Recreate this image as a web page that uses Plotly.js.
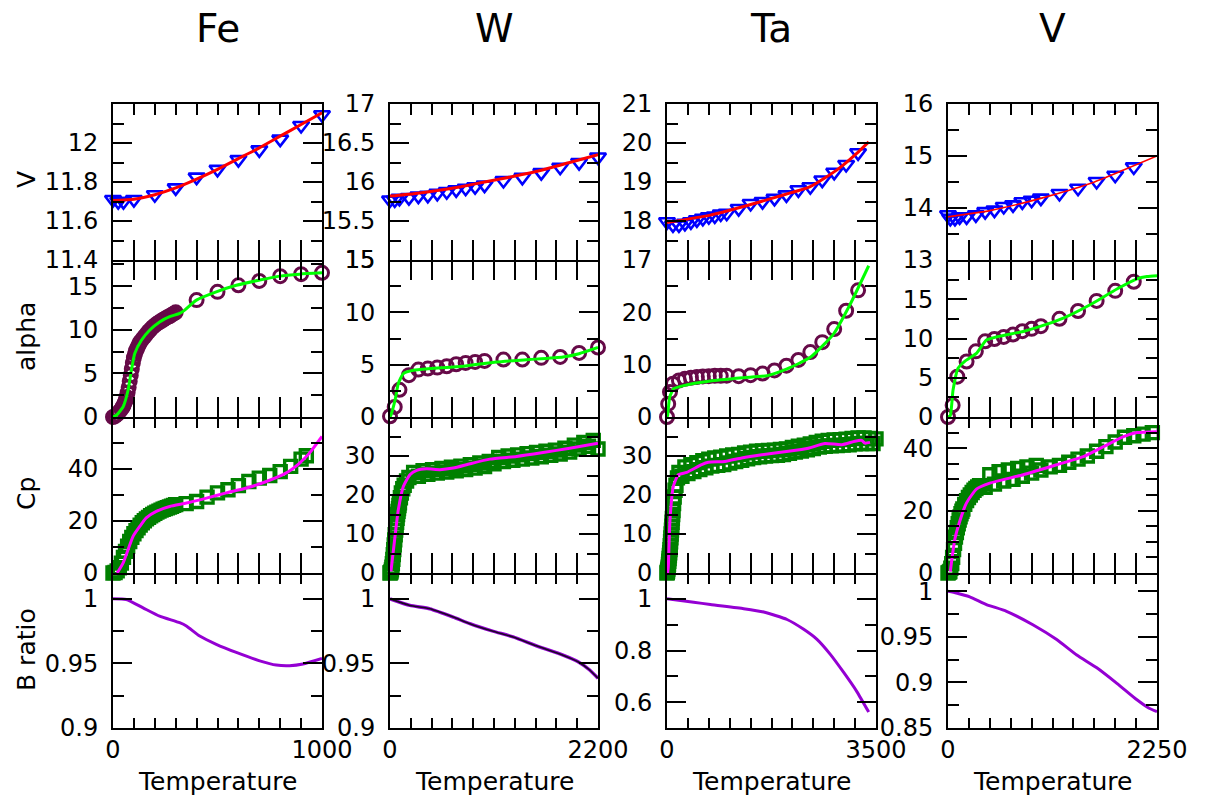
<!DOCTYPE html>
<html><head><meta charset="utf-8">
<script src="https://cdn.plot.ly/plotly-3.0.1.min.js"></script>
<style>html,body{margin:0;padding:0;background:#fff}#chart{width:1208px;height:803px}</style>
</head><body><div id="chart"></div>
<script>
// ---------------- data ----------------
const elements = ['Fe', 'W', 'Ta', 'V'];
const rowLabels = ['V', 'alpha', 'Cp', 'B ratio'];
const tempMax = [1000, 2200, 3500, 2250];
const xTitle = 'Temperature';

// Fe
const feVolT = [0,25,50,100,200,300,400,500,600,700,800,900,1000];
const feVol = [11.71,11.70,11.70,11.71,11.735,11.77,11.825,11.865,11.915,11.965,12.02,12.09,12.145];
const feVolFitT = [0,100,200,300,400,500,600,700,800,900,1000];
const feVolFit = [11.705,11.712,11.735,11.77,11.815,11.865,11.92,11.975,12.035,12.095,12.155];
const feAlphaT = [0,10,20,30,40,45,50,55,60,65,70,75,80,85,90,95,100,105,110,115,120,125,130,140,150,160,170,180,190,200,210,220,230,240,250,260,270,280,290,300,400,500,600,700,800,900,1000];
const feAlpha = [0,0.1,0.3,0.6,0.9,1.1,1.3,1.6,1.9,2.3,2.8,3.4,4.1,4.8,5.5,6.2,6.8,7.2,7.6,7.85,8.1,8.35,8.6,8.9,9.2,9.5,9.8,10.05,10.3,10.5,10.7,10.85,11.0,11.15,11.3,11.45,11.55,11.7,11.85,12.0,13.4,14.35,15.1,15.6,16.15,16.38,16.53];
const feAlphaFitT = [0,16,48,72,88,104,136,175,223,271,319,343,399,494,590,702,797,893,1000];
const feAlphaFit = [0,0.2,1.15,3.07,5.36,7.28,8.8,9.95,10.9,11.5,11.87,12.25,13.4,14.35,15.1,15.7,16.15,16.38,16.53];
const feCpT = [0,10,20,30,40,50,60,70,80,90,100,110,120,130,140,150,160,170,180,190,200,210,220,230,240,250,260,270,280,290,300,350,400,450,500,550,600,650,700,750,800,850,900,925];
const feCp = [0,0.2,0.8,2,3.8,6,8.3,10.3,12.1,13.7,15.1,16.3,17.4,18.4,19.3,20.1,20.8,21.4,22,22.5,23,23.4,23.8,24.2,24.5,24.8,25.1,25.4,25.7,26,26.3,26.7,27.5,29.2,30.8,32,33.6,35.2,36.5,37.5,39,41,43.8,45.1];
const feCpFitT = [20,48,72,96,128,159,207,271,351,447,542,638,734,829,893,941,1000];
const feCpFit = [0,3.8,9,14.1,17.9,21.2,23.7,25.6,26.9,28.8,30.8,32.7,35.2,38.5,42.3,46.2,52.5];
const feBT = [0,64,144,223,319,351,415,494,590,702,781,845,909,1000];
const feB = [1.0,0.9995,0.993,0.9866,0.9815,0.979,0.9712,0.9648,0.9585,0.952,0.9487,0.9482,0.9495,0.9538];

// W
const wVolT = [0,50,100,200,300,400,500,600,700,800,900,1000,1200,1400,1600,1800,2000,2200];
const wVol = [15.77,15.77,15.79,15.80,15.82,15.83,15.855,15.876,15.90,15.92,15.94,15.96,16.02,16.06,16.12,16.19,16.25,16.32];
const wVolFitT = [0,250,500,750,1000,1300,1600,1900,2200];
const wVolFit = [15.82,15.85,15.89,15.94,16.0,16.07,16.15,16.25,16.35];
const wAlphaT = [0,50,100,200,300,400,500,600,700,800,900,1000,1200,1400,1600,1800,2000,2200];
const wAlpha = [0.07,0.96,2.6,4.0,4.53,4.63,4.72,4.85,5.04,5.17,5.26,5.36,5.49,5.49,5.65,5.74,6.12,6.64];
const wAlphaFitT = [0,10,53,88,141,246,422,774,1126,1478,1830,2000,2200];
const wAlphaFit = [0,0.2,1.6,3.2,4.15,4.47,4.63,4.85,5.26,5.49,5.74,6.05,6.64];
const wCpT = [0,5,10,15,20,25,30,35,40,45,50,55,60,65,70,75,80,85,90,95,100,110,120,135,150,175,200,250,300,350,400,450,500,550,600,650,700,750,800,850,900,950,1000,1050,1100,1150,1200,1250,1300,1350,1400,1450,1500,1550,1600,1650,1700,1750,1800,1850,1900,1950,2000,2050,2100,2150,2200];
const wCp = [0,0.1,0.3,0.8,1.5,2.4,3.5,4.7,6,7.2,8.5,9.8,11,12,13,14,15,15.8,16.5,17.3,18,19.3,20.5,21.6,22.5,23.6,24.5,25.8,24.8,26.2,25.3,26.5,25.6,26.8,25.9,27.1,26.2,27.4,26.5,27.8,26.9,28.2,27.3,28.6,28.0,29.6,28.6,30.0,28.9,30.3,29.2,30.6,29.5,30.9,29.8,31.2,30.2,31.5,30.5,32.0,31.0,32.8,31.8,33.5,32.5,34.0,31.8];
const wCpFitT = [10,53,88,141,211,282,387,528,669,845,1056,1338,1619,1901,2200];
const wCpFit = [0.4,9.4,16.2,22.2,25.2,26.3,26.7,26.5,26.9,28,29.2,29.9,30.9,32.0,33.3];
const wBT = [0,211,422,669,845,1091,1302,1549,1830,1989,2112,2200];
const wB = [1.0,0.9949,0.9923,0.9859,0.9808,0.9749,0.9705,0.9636,0.9564,0.9513,0.9449,0.9385];

// Ta
const taVolT = [0,100,200,300,400,500,600,700,800,900,1000,1200,1400,1600,1800,2000,2200,2400,2600,2800,3000,3200];
const taVol = [17.98,17.9,17.9,17.94,17.98,18.03,18.07,18.11,18.13,18.18,18.2,18.32,18.45,18.5,18.58,18.67,18.8,18.88,19.05,19.25,19.45,19.75];
const taVolFitT = [0,726,1284,1842,2400,2847,3182,3378];
const taVolFit = [17.96,18.15,18.37,18.62,18.88,19.31,19.74,20.03];
const taAlphaT = [0,20,50,100,200,300,400,500,600,700,800,900,1000,1200,1400,1600,1800,2000,2200,2400,2600,2800,3000,3200];
const taAlpha = [0,2.5,4.8,6.36,6.98,7.3,7.5,7.62,7.75,7.81,7.87,7.87,7.9,7.8,8.0,8.3,8.9,9.8,10.9,12.4,14.3,16.8,20.3,24.2];
const taAlphaFitT = [0,10,45,112,279,726,1284,1675,2010,2400,2791,3070,3378];
const taAlphaFit = [0,0.3,3.8,5.4,6.0,6.86,7.5,7.9,9.2,11.4,15.9,21.6,28.9];
const taCpT = [0,5,10,15,20,25,30,35,40,45,50,55,60,65,70,75,80,85,90,95,100,110,120,135,150,175,200,250,300,350,400,450,500,550,600,650,700,750,800,850,900,950,1000,1050,1100,1150,1200,1250,1300,1350,1400,1450,1500,1550,1600,1650,1700,1750,1800,1850,1900,1950,2000,2050,2100,2150,2200,2250,2300,2350,2400,2450,2500,2550,2600,2650,2700,2750,2800,2850,2900,2950,3000,3050,3100,3150,3200,3250,3300,3350,3400,3450,3500];
const taCp = [0,0.2,0.5,1,1.5,2.2,3,3.7,4.5,5.2,6,7,8,9,10,11,12,13,14,15,16,17.8,19.5,21.2,22.5,24.4,25.8,24.8,27.2,25.5,27.8,26.0,28.3,26.5,28.8,27.0,29.2,27.4,29.5,27.6,29.7,27.8,30.0,28.2,30.3,28.6,30.4,28.9,30.8,29.3,31.0,29.6,31.2,29.8,31.3,30.0,31.4,30.1,31.5,30.2,31.7,30.4,31.8,30.7,32.2,31.0,32.5,31.3,32.8,31.6,33.1,31.9,33.5,32.3,33.8,32.5,34.0,32.6,34.1,32.7,34.2,32.8,34.3,32.9,34.5,33.1,34.6,33.2,34.6,33.2,34.5,33.2,34.4];
const taCpFitT = [10,22,50,106,190,330,581,692,971,1251,1586,2032,2366,2646,2926,3148,3260,3316,3400];
const taCpFit = [0,1.7,13.7,22.2,25.2,25.8,27.8,28.4,28.6,29.5,30.3,31.2,32,33.2,32.9,33.8,34,33.3,33.5];
const taBT = [0,447,726,1284,1619,2010,2289,2512,2735,2959,3182,3378];
const taB = [1.0,0.987,0.978,0.962,0.949,0.920,0.882,0.843,0.785,0.715,0.640,0.5615];

// V
const vVolT = [0,25,75,125,200,300,400,500,600,700,800,900,1000,1200,1400,1600,1800,2000];
const vVol = [13.87,13.8,13.8,13.83,13.83,13.87,13.93,13.96,14.03,14.06,14.12,14.15,14.19,14.28,14.38,14.51,14.63,14.79];
const vVolFitT = [0,450,1008,1530,1890,2250];
const vVolFit = [13.83,13.95,14.19,14.47,14.73,15.0];
const vAlphaT = [0,50,100,200,300,400,500,600,700,800,900,1000,1200,1400,1600,1800,2000];
const vAlpha = [0,1.5,5.14,7.07,8.36,9.64,9.94,10.2,10.5,10.93,11.23,11.57,12.51,13.5,14.79,16.07,17.23];
const vAlphaFitT = [0,25,54,108,180,306,414,558,810,1008,1242,1530,1818,2034,2142,2250];
const vAlphaFit = [0,0.2,3.4,6.2,7.1,8.1,9.8,10.3,10.9,11.6,12.6,14.3,16.3,17.6,17.9,18.0];
const vCpT = [0,10,20,30,40,50,60,70,80,90,100,110,120,130,140,150,160,180,200,220,240,260,280,300,320,340,400,450,500,550,600,650,700,750,800,850,900,950,1000,1100,1200,1300,1400,1500,1600,1700,1800,1900,2000,2100,2200];
const vCp = [0,0.2,0.5,1.5,3,5,7.5,9.5,11.5,13,14.5,15.8,17,18,19,19.8,20.5,22,23.2,24.2,25,25.8,26.5,27.1,27.6,28,27.5,31.5,28.5,32.5,29.5,33,30,33.5,31,34,32,34.5,33,34,34.5,35.5,36.5,37.5,39,40.5,42,43.5,44,44.5,45];
const vCpFitT = [25,72,126,198,306,450,810,1170,1458,1674,1890,2034,2250];
const vCpFit = [0.5,10.6,16.5,22.4,26.9,28.8,31.5,34.7,37.3,40.5,43.7,45,45.3];
const vBT = [0,90,234,414,630,918,1170,1386,1602,1818,2034,2160,2250];
const vB = [1.0,0.998,0.9938,0.9854,0.978,0.963,0.947,0.930,0.916,0.899,0.881,0.872,0.868];

// ---------------- styling / layout ----------------
const W = 1208, H = 803;
const FONT = 'DejaVu Sans, Liberation Sans, Arial, sans-serif';
const colPx = [[113,322],[390,598],[667,876],[948,1157]];
const rowPx = [[104,260],[260,417],[417,573],[573,728]];

function tri(x, y){ return {type:'scatter', mode:'markers', x, y, cliponaxis:false, hoverinfo:'skip',
  marker:{symbol:'triangle-down-open', size:14, color:'#0000ff', line:{width:2.6, color:'#0000ff'}}}; }
function circ(x, y){ return {type:'scatter', mode:'markers', x, y, cliponaxis:false, hoverinfo:'skip',
  marker:{symbol:'circle-open', size:13, color:'#660a48', line:{width:3, color:'#660a48'}}}; }
function sq(x, y){ return {type:'scatter', mode:'markers', x, y, cliponaxis:false, hoverinfo:'skip',
  marker:{symbol:'square-open', size:12, color:'#008000', line:{width:3.4, color:'#008000'}}}; }
function ln(x, y, color, w){ return {type:'scatter', mode:'lines', x, y, cliponaxis:false, hoverinfo:'skip',
  line:{color, width:w, shape:'spline', smoothing:0.5}}; }

const RED='#ff0000', GRN='#00ff00', MAG='#ff00ff', PUR='#9400d3';

// panels: row-major, 4 columns
const panels = [
  // row 0 : V
  {tr:[tri(feVolT,feVol), ln(feVolFitT,feVolFit,RED,3)], range:[11.4,12.2], major:[11.4,11.6,11.8,12], minor:0.1},
  {tr:[tri(wVolT,wVol), ln(wVolFitT,wVolFit,RED,3)], range:[15,17], major:[15,15.5,16,16.5,17], minor:0.25},
  {tr:[tri(taVolT,taVol), ln(taVolFitT,taVolFit,RED,3)], range:[17,21], major:[17,18,19,20,21], minor:0.5},
  {tr:[tri(vVolT,vVol), ln(vVolFitT,vVolFit,RED,1.6)], range:[13,16], major:[13,14,15,16], minor:0.5},
  // row 1 : alpha
  {tr:[circ(feAlphaT,feAlpha), ln(feAlphaFitT,feAlphaFit,GRN,3)], range:[0,18], major:[0,5,10,15], minor:2.5},
  {tr:[circ(wAlphaT,wAlpha), ln(wAlphaFitT,wAlphaFit,GRN,3)], range:[0,15], major:[0,5,10,15], minor:2.5},
  {tr:[circ(taAlphaT,taAlpha), ln(taAlphaFitT,taAlphaFit,GRN,3)], range:[0,30], major:[0,10,20], minor:5},
  {tr:[circ(vAlphaT,vAlpha), ln(vAlphaFitT,vAlphaFit,GRN,3)], range:[0,20], major:[0,5,10,15], minor:2.5},
  // row 2 : Cp
  {tr:[sq(feCpT,feCp), ln(feCpFitT,feCpFit,MAG,3)], range:[0,60], major:[0,20,40], minor:10},
  {tr:[sq(wCpT,wCp), ln(wCpFitT,wCpFit,MAG,3)], range:[0,40], major:[0,10,20,30], minor:5},
  {tr:[sq(taCpT,taCp), ln(taCpFitT,taCpFit,MAG,3)], range:[0,40], major:[0,10,20,30], minor:5},
  {tr:[sq(vCpT,vCp), ln(vCpFitT,vCpFit,MAG,3)], range:[0,50], major:[0,20,40], minor:5},
  // row 3 : B ratio
  {tr:[ln(feBT,feB,PUR,3)], range:[0.9,1.02], major:[0.9,0.95,1], minor:0.025},
  {tr:[ln(wBT,wB,PUR,3.4), ln(wBT,wB,'#1a0a22',1.6)], range:[0.9,1.02], major:[0.9,0.95,1], minor:0.025},
  {tr:[ln(taBT,taB,PUR,3)], range:[0.5,1.1], major:[0.6,0.8,1], minor:0.1},
  {tr:[ln(vBT,vB,PUR,3)], range:[0.85,1.02], major:[0.85,0.9,0.95,1], minor:0.025}
];

const data = [];
const layout = {
  width: W, height: H, margin:{l:0,r:0,t:0,b:0,pad:0},
  paper_bgcolor:'#fff', plot_bgcolor:'rgba(0,0,0,0)', showlegend:false,
  font:{family:FONT, color:'#000'}, annotations:[]
};

function stepTicks(lo, hi, step, skip){
  const out = [];
  const n = Math.round((hi - lo) / step);
  for (let k = 0; k <= n; k++){
    const v = +(lo + k*step).toFixed(6);
    if (!skip.some(m => Math.abs(m - v) < 1e-9)) out.push(v);
  }
  return out;
}

panels.forEach((p, idx) => {
  const row = Math.floor(idx / 4), col = idx % 4, i = idx + 1;
  const xa = 'x' + i, ya = 'y' + i;
  p.tr.forEach(t => { t.xaxis = xa; t.yaxis = ya; data.push(t); });
  const xmax = tempMax[col];
  const xMinor = stepTicks(0, xmax, xmax/10, [0, xmax]);
  const tickStyle = {ticks:'inside', tickwidth:2, tickcolor:'#000'};
  layout['xaxis' + i] = Object.assign({
    domain:[colPx[col][0]/W, colPx[col][1]/W], anchor:ya, range:[0, xmax],
    tickmode:'array', tickvals:[0, xmax], ticktext:['0', String(xmax)],
    showticklabels: row === 3, ticklen: row === 3 ? 10 : 20,
    minor:{tickmode:'array', tickvals:xMinor, ticks:'inside', ticklen: row === 3 ? 10 : 20, tickwidth:2, tickcolor:'#000'},
    showline:true, mirror: row === 0, linewidth:2, linecolor:'#000',
    showgrid:false, zeroline:false, fixedrange:true,
    tickfont:{family:FONT, size:24, color:'#000'}, ticklabelstandoff:-1
  }, tickStyle);
  // top-side ticks via overlaying axis
  const xo = 16 + i;
  layout['xaxis' + xo] = Object.assign({
    overlaying:xa, anchor:ya, side:'top', range:[0, xmax],
    tickmode:'array', tickvals:[], showticklabels:false, ticklen:0,
    minor:{tickmode:'array', tickvals:xMinor, ticks:'inside', ticklen: row === 1 ? 20 : 11, tickwidth:2, tickcolor:'#000'},
    showline:false, showgrid:false, zeroline:false, fixedrange:true
  }, tickStyle);
  data.push({type:'scatter', mode:'markers', x:[null], y:[null], xaxis:'x' + xo, yaxis:ya, hoverinfo:'skip', marker:{opacity:0}});

  const yMinor = stepTicks(p.range[0], p.range[1], p.minor, p.major);
  layout['yaxis' + i] = {
    domain:[1 - rowPx[row][1]/H, 1 - rowPx[row][0]/H], anchor:xa, range:p.range,
    tickmode:'array', tickvals:p.major, ticktext:p.major.map(v => String(v)),
    ticks:'inside', ticklen:19, tickwidth:2, tickcolor:'#000',
    minor:{tickmode:'array', tickvals:yMinor, ticks:'inside', ticklen:11, tickwidth:2, tickcolor:'#000'},
    showline:true, mirror:'ticks', linewidth:2, linecolor:'#000',
    showgrid:false, zeroline:false, fixedrange:true,
    tickfont:{family:FONT, size:24, color:'#000'}, ticklabelstandoff:8
  };
});

// column titles, row labels, x titles
elements.forEach((el, c) => {
  const cx = (colPx[c][0] + colPx[c][1]) / 2 / W;
  layout.annotations.push({text:el, x:cx, y:1 - 28/H, xref:'paper', yref:'paper', showarrow:false,
    xanchor:'center', yanchor:'middle', font:{family:FONT, size:39, color:'#000'}});
  layout.annotations.push({text:xTitle, x:cx, y:1 - 781/H, xref:'paper', yref:'paper', showarrow:false,
    xanchor:'center', yanchor:'middle', font:{family:FONT, size:25, color:'#000'}});
});
rowLabels.forEach((lab, r) => {
  const cy = [180, 337, 494, 650][r];
  layout.annotations.push({text:lab, x:26/W, y:1 - cy/H, xref:'paper', yref:'paper', showarrow:false,
    textangle:-90, xanchor:'center', yanchor:'middle', font:{family:FONT, size:25, color:'#000'}});
});

Plotly.newPlot('chart', data, layout, {staticPlot:true, displayModeBar:false});
</script></body></html>
